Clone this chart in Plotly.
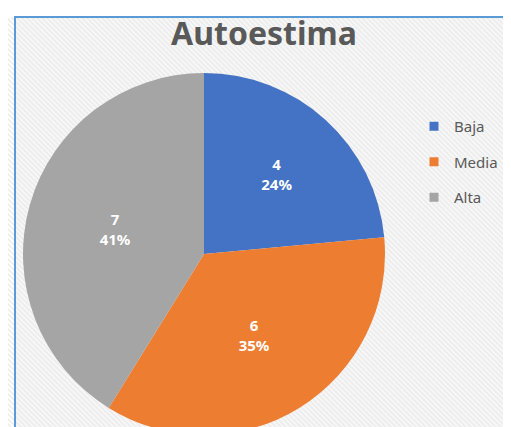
import plotly.graph_objects as go

# data
categorias = ["Baja", "Media", "Alta"]
valores = [4, 6, 7]
colores = ["#4472C4", "#ED7D31", "#A5A5A5"]
titulo = "Autoestima"

W, H = 511, 427

fig = go.Figure()

fig.add_trace(go.Pie(
    labels=categorias,
    values=valores,
    marker=dict(colors=colores, line=dict(width=0)),
    sort=False,
    direction="clockwise",
    rotation=0,
    texttemplate="%{value}<br>%{percent:.0%}",
    textposition="inside",
    insidetextorientation="horizontal",
    textfont=dict(family="Noto Sans", size=15, color="white", weight="bold"),
    hoverinfo="label+value+percent",
    showlegend=False,
    domain=dict(x=[15 / W, 377 / W], y=[0, 1 - 65 / H]),
))

# legend entries (dummy traces so the spacing can be controlled)
for c, col in zip(categorias, colores):
    fig.add_trace(go.Scatter(
        x=[None], y=[None], mode="markers",
        marker=dict(symbol="square", size=9, color=col),
        name=c, legendgroup=c, showlegend=True,
    ))

# chart area: light hatch + blue border (left and top edges only visible)
stripes = []
step = 5
for k in range(-H, W + 20, step):
    x0, y0 = k, 9
    x1, y1 = k + H, 9 + H
    stripes.append(f"M{x0 / W:.4f},{1 - y0 / H:.4f} L{x1 / W:.4f},{1 - y1 / H:.4f}")

fig.add_shape(type="rect", xref="paper", yref="paper",
              x0=7 / W, x1=1, y0=0, y1=1 - 9 / H,
              fillcolor="#f7f7f7", line=dict(width=0), layer="below")
fig.add_shape(type="path", xref="paper", yref="paper",
              path=" ".join(stripes),
              line=dict(color="#ebebeb", width=1.5), layer="below")
fig.add_shape(type="path", xref="paper", yref="paper",
              path=f"M{7 / W:.4f},0 L{7 / W:.4f},{1 - 9 / H:.4f} L1,{1 - 9 / H:.4f}",
              line=dict(color="#5B9BD5", width=2), layer="above")

fig.update_layout(
    width=W, height=H,
    margin=dict(l=0, r=0, t=0, b=0),
    paper_bgcolor="white",
    plot_bgcolor="rgba(0,0,0,0)",
    title=dict(text=titulo, x=256 / W, xanchor="center", y=1 - 26 / H, yanchor="middle",
               font=dict(family="Noto Sans", size=32, color="#595959", weight="bold")),
    legend=dict(x=406 / W, y=1 - 102 / H, xanchor="left", yanchor="top",
                font=dict(family="Noto Sans", size=15, color="#595959"),
                bgcolor="rgba(0,0,0,0)", tracegroupgap=13, itemwidth=30),
    xaxis=dict(visible=False, domain=[0.99, 1]),
    yaxis=dict(visible=False, domain=[0.99, 1]),
)

fig.write_html("out.html")
